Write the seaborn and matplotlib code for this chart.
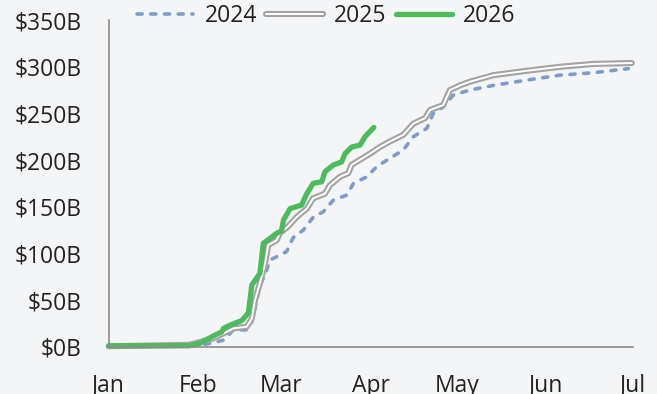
import matplotlib
matplotlib.use("Agg")
import matplotlib.pyplot as plt
import matplotlib.patheffects as pe
import seaborn as sns
import pandas as pd

# ---- data (day of year, cumulative $B) ----
days_2024 = [0, 28, 32, 36, 39.8, 43.3, 47.9, 49.7, 50.8, 52.5, 54.3, 56, 58.3, 61.8,
             62.7, 64.1, 67.6, 71.1, 74.5, 78, 82.7, 85, 89.6, 93.1, 97.7, 102.3,
             105.8, 110.5, 112.7, 116.2, 119.7, 123.2, 125.5, 133.6, 145.2, 156.8,
             168.3, 180.5]
vals_2024 = [0, 1, 2, 4, 7, 18, 18, 27, 41, 66, 77, 93, 96.4, 102,
             108, 117, 125, 139, 144.6, 157, 162.5, 175, 182, 193, 202, 210.8,
             225, 234, 250, 257, 269.7, 273, 275, 280, 285.7, 291,
             293.6, 298]

days_2025 = [0, 28, 30, 36.3, 41, 43.3, 47.9, 49.7, 50.8, 52.5, 54.3, 55.4, 58.3,
             59.5, 62, 65.3, 68.8, 71, 75.1, 76.8, 80.3, 83.2, 84.4, 87.9, 90.8,
             94.2, 97.7, 102.3, 105.8, 109.9, 111.6, 116.2, 118.5, 122, 125.5,
             133.6, 145.2, 156.8, 168.3, 181.7]
vals_2025 = [0.5, 2, 3.5, 9, 16, 19.7, 21.4, 30, 50, 68, 89, 109, 114,
             122, 128, 139, 148, 159, 164, 173, 182, 186, 195, 201.5, 207,
             214, 220, 227, 239, 245, 253.6, 259, 275, 280, 284,
             291, 295.7, 300, 303, 304]

days_2026 = [0, 28, 31.6, 35.8, 39.3, 39.9, 42.1, 46.2, 48.5, 49.7, 52.5, 53.7, 56,
             58.3, 60, 60.7, 63, 67, 68.8, 71, 74, 75.1, 78, 80.9, 82.1, 84.4,
             87.3, 89, 92.1]
vals_2026 = [1, 1, 3.6, 10.7, 16, 19.7, 23, 28, 36, 66, 78.6, 110.8, 116,
             121.5, 124, 135.7, 148, 151.8, 164, 175, 176.8, 187.5, 194.7, 198, 207, 214,
             216, 225, 235]

month_ticks = [0, 31, 60, 91, 121, 152, 182]
month_labels = ["Jan", "Feb", "Mar", "Apr", "May", "Jun", "Jul"]
y_ticks = [0, 50, 100, 150, 200, 250, 300, 350]
y_labels = [r"\$0B", r"\$50B", r"\$100B", r"\$150B", r"\$200B", r"\$250B", r"\$300B", r"\$350B"]

# ---- style ----
bg = "#f4f5f7"
sns.set_theme(style="white")
plt.rcParams["font.family"] = ["Open Sans", "DejaVu Sans"]
plt.rcParams["figure.facecolor"] = bg
plt.rcParams["axes.facecolor"] = bg

fig = plt.figure(figsize=(6.57, 3.94), dpi=100)
ax = fig.add_axes([0.1655, 0.12, 0.7975, 0.829])

c24 = "#7f9cc8"
c25 = "#a3a3a3"
c26 = "#4cbb5c"

df24 = pd.DataFrame({"day": days_2024, "value": vals_2024})
df25 = pd.DataFrame({"day": days_2025, "value": vals_2025})
df26 = pd.DataFrame({"day": days_2026, "value": vals_2026})

sns.lineplot(data=df24, x="day", y="value", ax=ax, color=c24, linewidth=2.6,
             label="2024", estimator=None, sort=False)
sns.lineplot(data=df25, x="day", y="value", ax=ax, color="white", linewidth=1.4,
             label="2025", estimator=None, sort=False)
sns.lineplot(data=df26, x="day", y="value", ax=ax, color=c26, linewidth=3.8,
             label="2026", estimator=None, sort=False)

lines = ax.get_lines()
lines[0].set_dashes([1.4, 2.4])
lines[0].set_dash_capstyle("round")
lines[0].set_dash_joinstyle("round")
lines[1].set_path_effects([pe.Stroke(linewidth=4.4, foreground=c25,
                                     joinstyle="round", capstyle="round"), pe.Normal()])
lines[1].set_solid_joinstyle("round")
lines[2].set_solid_capstyle("round")
lines[2].set_solid_joinstyle("round")
for ln in lines:
    ln.set_clip_on(False)

ax.set_xlim(0, 182)
ax.set_ylim(0, 350)
ax.set_xticks(month_ticks)
ax.set_xticklabels(month_labels)
ax.set_yticks(y_ticks)
ax.set_yticklabels(y_labels)
ax.set_xlabel("")
ax.set_ylabel("")

for s in ["top", "right"]:
    ax.spines[s].set_visible(False)
for s in ["left", "bottom"]:
    ax.spines[s].set_color("#8c8c8c")
    ax.spines[s].set_linewidth(1.2)

ax.tick_params(axis="both", which="major", direction="out", length=6.5, width=1.2,
               color="#8c8c8c", labelsize=16.5, labelcolor="#222222")
ax.tick_params(axis="y", pad=13)
ax.tick_params(axis="x", pad=13)

leg = ax.legend(loc="center", bbox_to_anchor=(0.497, 0.96), bbox_transform=fig.transFigure,
                ncol=3, frameon=False, fontsize=16.5, handlelength=2.45,
                handletextpad=0.5, columnspacing=0.4, borderpad=0, borderaxespad=0)
for t in leg.get_texts():
    t.set_color("#222222")

fig.savefig("out.png", dpi=100, facecolor=bg)
